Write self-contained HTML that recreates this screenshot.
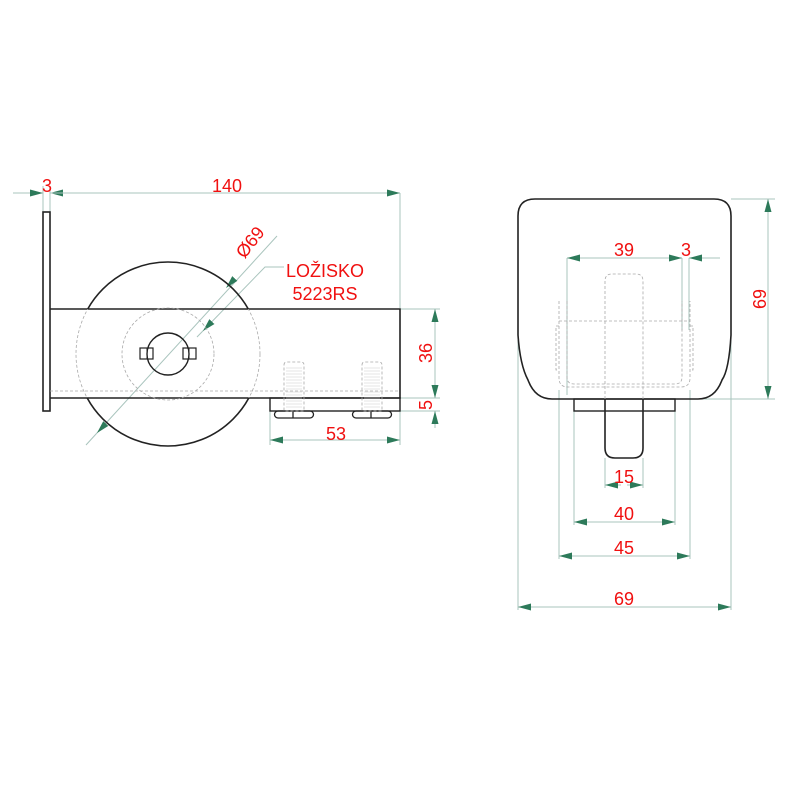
<!DOCTYPE html>
<html><head><meta charset="utf-8"><style>body{margin:0;background:#fff}svg{display:block}text{font-family:"Liberation Sans",sans-serif;font-size:18px;fill:#f01010}</style></head><body>
<svg width="800" height="800" viewBox="0 0 800 800" xmlns="http://www.w3.org/2000/svg">
<defs>
<marker id="a" viewBox="0 -4 13 8" refX="13" refY="0" markerWidth="13" markerHeight="8" markerUnits="userSpaceOnUse" orient="auto-start-reverse"><path d="M0,-3.5L13,0L0,3.5z" fill="#2d7a5a"/></marker>
<clipPath id="out"><path d="M0,0H800V309H0ZM0,398H800V800H0Z"/></clipPath>
<clipPath id="in"><rect x="0" y="309" width="800" height="89"/></clipPath>
</defs>
<g stroke="#a9c4bd" stroke-width="1" fill="none">
<line x1="13" y1="193" x2="43" y2="193" marker-end="url(#a)"/>
<line x1="50" y1="193" x2="66" y2="193" marker-start="url(#a)"/>
<line x1="50" y1="193" x2="400" y2="193" marker-end="url(#a)"/>
<line x1="43" y1="186" x2="43" y2="212"/><line x1="50" y1="186" x2="50" y2="212"/>
<line x1="400" y1="193" x2="400" y2="308"/>
<line x1="400" y1="309" x2="440" y2="309"/><line x1="400" y1="398" x2="440" y2="398"/><line x1="400" y1="411" x2="440" y2="411"/>
<line x1="435" y1="309" x2="435" y2="398" marker-start="url(#a)" marker-end="url(#a)"/>
<line x1="435" y1="411" x2="435" y2="428" marker-start="url(#a)"/>
<line x1="270" y1="411" x2="270" y2="445"/><line x1="400" y1="411" x2="400" y2="445"/>
<line x1="270" y1="440" x2="400" y2="440" marker-start="url(#a)" marker-end="url(#a)"/>
<line x1="86" y1="445" x2="277" y2="236"/>
<polyline points="284,267 265,267 197,337"/>
<line x1="567" y1="258" x2="567" y2="395"/><line x1="682" y1="258" x2="682" y2="330"/><line x1="689" y1="258" x2="689" y2="330"/>
<line x1="567" y1="258" x2="682" y2="258" marker-start="url(#a)" marker-end="url(#a)"/>
<line x1="689" y1="258" x2="720" y2="258" marker-start="url(#a)"/>
<line x1="731" y1="199" x2="775" y2="199"/><line x1="690" y1="399" x2="775" y2="399"/>
<line x1="768" y1="199" x2="768" y2="399" marker-start="url(#a)" marker-end="url(#a)"/>
<line x1="605" y1="458" x2="605" y2="488"/><line x1="643" y1="458" x2="643" y2="488"/>
<line x1="605" y1="485" x2="621" y2="485" marker-start="url(#a)"/><line x1="627" y1="485" x2="643" y2="485" marker-end="url(#a)"/>
<line x1="574" y1="411" x2="574" y2="525"/><line x1="675" y1="411" x2="675" y2="525"/>
<line x1="574" y1="522" x2="675" y2="522" marker-start="url(#a)" marker-end="url(#a)"/>
<line x1="559" y1="390" x2="559" y2="559"/><line x1="690" y1="390" x2="690" y2="559"/>
<line x1="559" y1="556" x2="690" y2="556" marker-start="url(#a)" marker-end="url(#a)"/>
<line x1="518" y1="340" x2="518" y2="610"/><line x1="731" y1="340" x2="731" y2="610"/>
<line x1="518" y1="607" x2="731" y2="607" marker-start="url(#a)" marker-end="url(#a)"/>
</g>
<line x1="110" y1="419" x2="97" y2="433" stroke="none" marker-end="url(#a)"/>
<line x1="226" y1="288" x2="238" y2="275" stroke="none" marker-start="url(#a)"/>
<line x1="220" y1="313" x2="203" y2="331" stroke="none" marker-end="url(#a)"/>
<g stroke="#222" stroke-width="1.6" fill="none">
<rect x="43" y="212" width="7" height="199"/>
<polyline points="50,309 400,309 400,398 50,398"/>
<circle cx="168" cy="354" r="92" clip-path="url(#out)"/>
<circle cx="168" cy="354" r="21" stroke-width="1.4"/>
<rect x="140" y="348" width="13" height="11" stroke-width="1.2"/><rect x="183" y="348" width="13" height="11" stroke-width="1.2"/>
<line x1="147" y1="348" x2="147" y2="359" stroke-width="1"/><line x1="189" y1="348" x2="189" y2="359" stroke-width="1"/>
<rect x="270" y="398" width="130" height="13" stroke-width="1.4"/>
<path d="M278,411h32a3,3 0 0 1 0,7h-32a3,3 0 0 1 0,-7zM293,411v7" stroke-width="1.3"/>
<path d="M356,411h32a3,3 0 0 1 0,7h-32a3,3 0 0 1 0,-7zM371,411v7" stroke-width="1.3"/>
</g>
<g stroke="#aaa" stroke-width="0.8" fill="none" stroke-dasharray="3,2">
<circle cx="168" cy="354" r="92" clip-path="url(#in)"/>
<circle cx="168" cy="354" r="46"/>
<line x1="50" y1="391" x2="400" y2="391"/>
<path d="M284,365q0,-3 3,-3h14q3,0 3,3v46h-20z"/>
<path d="M362,365q0,-3 3,-3h14q3,0 3,3v46h-20z"/>
</g>
<g stroke="#ccc" stroke-width="0.6">
<path d="M286,368h16M286,371h16M286,374h16M286,377h16M286,380h16M286,383h16M286,386h16M286,389h16M286,392h16M286,395h16M286,398h16M286,401h16M286,404h16M286,407h16"/>
<path d="M364,368h16M364,371h16M364,374h16M364,377h16M364,380h16M364,383h16M364,386h16M364,389h16M364,392h16M364,395h16M364,398h16M364,401h16M364,404h16M364,407h16"/>
</g>
<g stroke="#222" stroke-width="1.6" fill="none">
<path d="M535,199H714Q731,199 731,216V335Q729,370 722,380Q715,399 698,399H552Q535,399 528,380Q520,365 518,335V216Q518,199 535,199Z"/>
<rect x="574" y="399" width="101" height="12" stroke-width="1.4"/>
<path d="M605,399V448Q605,458 615,458H633Q643,458 643,448V399"/>
</g>
<g stroke="#aaa" stroke-width="0.8" fill="none" stroke-dasharray="3,2">
<path d="M605,399V281Q605,274 612,274H636Q643,274 643,281V399"/>
<path d="M559,301V378Q559,387 568,387H681Q690,387 690,378V301"/>
<path d="M567,301V377Q567,384 574,384H675Q682,384 682,377V301"/>
<line x1="559" y1="321" x2="690" y2="321"/>
<path d="M559,326H556V370H559M690,326H693V370H690"/>
</g>
<text x="47" y="192" text-anchor="middle">3</text>
<text x="227" y="192" text-anchor="middle">140</text>
<text transform="translate(255,246) rotate(-52)" text-anchor="middle">Ø69</text>
<text x="325" y="277" text-anchor="middle">LOŽISKO</text>
<text x="325" y="300" text-anchor="middle">5223RS</text>
<text x="336" y="440" text-anchor="middle">53</text>
<text transform="translate(432,353) rotate(-90)" text-anchor="middle">36</text>
<text transform="translate(432,405) rotate(-90)" text-anchor="middle">5</text>
<text x="624" y="256" text-anchor="middle">39</text>
<text x="686" y="256" text-anchor="middle">3</text>
<text transform="translate(766,299) rotate(-90)" text-anchor="middle">69</text>
<text x="624" y="483" text-anchor="middle">15</text>
<text x="624" y="520" text-anchor="middle">40</text>
<text x="624" y="554" text-anchor="middle">45</text>
<text x="624" y="605" text-anchor="middle">69</text>
</svg>
</body></html>
